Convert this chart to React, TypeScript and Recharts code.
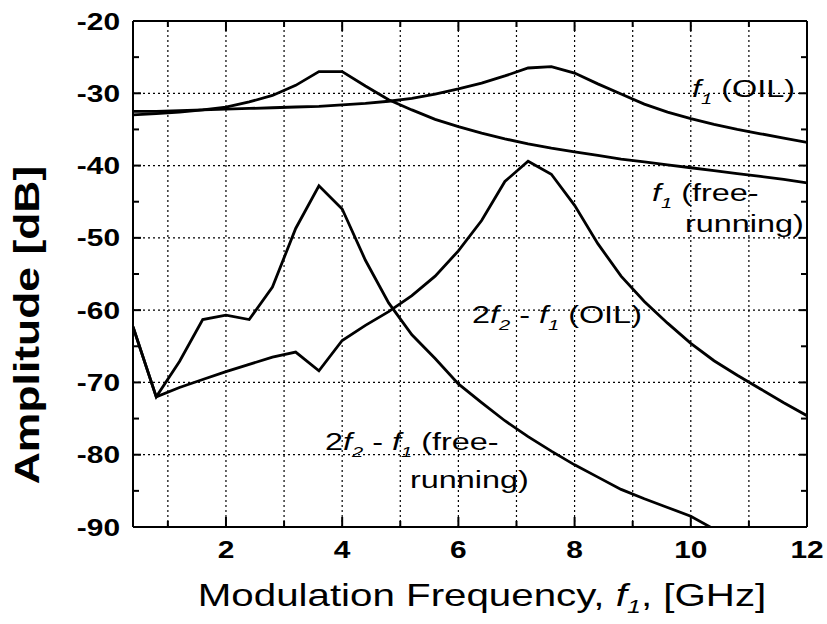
import { LineChart, Line, XAxis, YAxis, ReferenceLine } from "recharts";

// modulation frequency samples [GHz]
const freq = [
  0.4, 0.8, 1.2, 1.6, 2.0, 2.4, 2.8, 3.2, 3.6, 4.0, 4.4, 4.8, 5.2, 5.6, 6.0,
  6.4, 6.8, 7.2, 7.6, 8.0, 8.4, 8.8, 9.2, 9.6, 10.0, 10.4, 10.8, 11.2, 11.6, 12.0,
];

// amplitudes [dB]
const f1Free = [
  -33.0, -32.8, -32.6, -32.3, -31.9, -31.2, -30.3, -28.9, -27.0, -27.0, -29.0, -30.9, -32.3, -33.6, -34.6,
  -35.5, -36.3, -37.0, -37.6, -38.1, -38.6, -39.1, -39.5, -39.9, -40.3, -40.7, -41.1, -41.5, -41.9, -42.4,
];
const f1Oil = [
  -32.5, -32.5, -32.4, -32.3, -32.2, -32.1, -32.0, -31.9, -31.8, -31.6, -31.4, -31.1, -30.7, -30.1, -29.4,
  -28.6, -27.6, -26.5, -26.3, -27.2, -28.7, -30.1, -31.5, -32.6, -33.5, -34.3, -35.0, -35.6, -36.2, -36.8,
];
const imdFree = [
  -62.3, -72.0, -67.1, -61.3, -60.7, -61.3, -56.8, -48.7, -42.8, -46.0, -53.1, -59.0, -63.4, -66.7, -70.2,
  -72.8, -75.3, -77.5, -79.5, -81.4, -83.1, -84.8, -86.1, -87.3, -88.5, -90.3, -91.3, -92.3, -93.2, -94.1,
];
const imdOil = [
  -62.3, -72.0, -70.7, -69.6, -68.5, -67.5, -66.5, -65.8, -68.4, -64.2, -62.1, -60.2, -58.0, -55.3, -51.8,
  -47.6, -42.2, -39.4, -41.2, -45.5, -50.8, -55.3, -58.8, -61.8, -64.6, -67.0, -69.0, -70.9, -72.8, -74.6,
];

const xTicks = [1, 2, 3, 4, 5, 6, 7, 8, 9, 10, 11, 12];
const xGrid = [1, 2, 3, 4, 5, 6, 7, 8, 9, 10, 11];
const yTicks = [-90, -85, -80, -75, -70, -65, -60, -55, -50, -45, -40, -35, -30, -25, -20];
const yGrid = [-80, -70, -60, -50, -40, -30];

const rows = freq.map((f, i) => ({
  f,
  f1Free: f1Free[i],
  f1Oil: f1Oil[i],
  imdFree: imdFree[i],
  imdOil: imdOil[i],
}));

const FONT = '"Liberation Sans", Arial, sans-serif';
const SX = 1.3;

function Wide({ x, y, size, bold, anchor = "start", sx = SX, rotate = false, children }: any) {
  return (
    <g transform={`translate(${x},${y})${rotate ? " rotate(-90)" : ""} scale(${sx},1)`}>
      <text x={0} y={0} fontFamily={FONT} fontSize={size} fontWeight={bold ? "bold" : "normal"} textAnchor={anchor} fill="#000">
        {children}
      </text>
    </g>
  );
}

function BottomTick({ x, y, payload }: any) {
  const major = payload.value % 2 === 0;
  return (
    <g>
      <line x1={x} x2={x} y1={y} y2={y - (major ? 10 : 6)} stroke="#000" strokeWidth={2} />
      {major && (
        <Wide x={x} y={y + 31} size={23} bold anchor="middle">
          {payload.value}
        </Wide>
      )}
    </g>
  );
}

function TopTick({ x, y, payload }: any) {
  const major = payload.value % 2 === 0;
  return <line x1={x} x2={x} y1={y} y2={y + (major ? 10 : 6)} stroke="#000" strokeWidth={2} />;
}

function LeftTick({ x, y, payload }: any) {
  const major = payload.value % 10 === 0;
  return (
    <g>
      <line x1={x} x2={x + (major ? 8 : 6)} y1={y} y2={y} stroke="#000" strokeWidth={2} />
      {major && (
        <Wide x={x - 13} y={y + 8.5} size={23} bold anchor="end">
          {payload.value}
        </Wide>
      )}
    </g>
  );
}

function RightTick({ x, y, payload }: any) {
  const major = payload.value % 10 === 0;
  return <line x1={x} x2={x - (major ? 8 : 6)} y1={y} y2={y} stroke="#000" strokeWidth={2} />;
}

function Sub({ children }: any) {
  return (
    <tspan fontStyle="italic" fontSize="0.62em" dy={7}>
      {children}
    </tspan>
  );
}

function F({ s }: { s: string }) {
  return (
    <>
      <tspan fontStyle="italic">f</tspan>
      <Sub>{s}</Sub>
    </>
  );
}

export default function App() {
  const axis = { stroke: "#000", strokeWidth: 2 };
  return (
    <div style={{ position: "absolute", left: 0, top: 0, width: 827, height: 624, background: "#fff" }}>
      <LineChart width={827} height={624} data={rows} margin={{ top: 20, right: 19, left: 0, bottom: 37 }}>
        <XAxis
          dataKey="f"
          type="number"
          domain={[0.4, 12]}
          allowDataOverflow
          ticks={xTicks}
          interval={0}
          tickLine={false}
          tickSize={0}
          tickMargin={0}
          tick={<BottomTick />}
          axisLine={axis}
          height={60}
        />
        <XAxis
          xAxisId="top"
          orientation="top"
          dataKey="f"
          type="number"
          domain={[0.4, 12]}
          allowDataOverflow
          ticks={xTicks}
          interval={0}
          tickLine={false}
          tickSize={0}
          tickMargin={0}
          tick={<TopTick />}
          axisLine={axis}
          height={1}
        />
        <YAxis
          type="number"
          domain={[-90, -20]}
          allowDataOverflow
          ticks={yTicks}
          interval={0}
          tickLine={false}
          tickSize={0}
          tickMargin={0}
          tick={<LeftTick />}
          axisLine={axis}
          width={133}
        />
        <YAxis
          yAxisId="right"
          orientation="right"
          type="number"
          domain={[-90, -20]}
          allowDataOverflow
          ticks={yTicks}
          interval={0}
          tickLine={false}
          tickSize={0}
          tickMargin={0}
          tick={<RightTick />}
          axisLine={axis}
          width={1}
        />
        {xGrid.map((v) => (
          <ReferenceLine key={"vx" + v} x={v} stroke="#000" strokeWidth={1.2} strokeDasharray="2 3" />
        ))}
        {yGrid.map((v) => (
          <ReferenceLine key={"hy" + v} y={v} stroke="#000" strokeWidth={1.2} strokeDasharray="2 3" />
        ))}
        <Line dataKey="f1Free" stroke="#000" strokeWidth={2.8} dot={false} isAnimationActive={false} />
        <Line dataKey="f1Oil" stroke="#000" strokeWidth={2.8} dot={false} isAnimationActive={false} />
        <Line dataKey="imdFree" stroke="#000" strokeWidth={2.8} dot={false} isAnimationActive={false} />
        <Line dataKey="imdOil" stroke="#000" strokeWidth={2.8} dot={false} isAnimationActive={false} />
      </LineChart>
      <svg width={827} height={624} style={{ position: "absolute", left: 0, top: 0, pointerEvents: "none" }}>
        <Wide x={39} y={325} size={35} bold anchor="middle" rotate sx={1.27}>
          Amplitude [dB]
        </Wide>
        <Wide x={482} y={606} size={31} anchor="middle">
          Modulation Frequency, <F s="1" />
          <tspan dy={-7}>, [GHz]</tspan>
        </Wide>
        <Wide x={692} y={97} size={24} sx={1.35}>
          <F s="1" />
          <tspan dy={-7}> (OIL)</tspan>
        </Wide>
        <Wide x={652} y={201} size={24} sx={1.35}>
          <F s="1" />
          <tspan dy={-7}> (free-</tspan>
        </Wide>
        <Wide x={685} y={232} size={24} sx={1.35}>
          running)
        </Wide>
        <Wide x={472} y={323} size={24} sx={1.35}>
          2<F s="2" />
          <tspan dy={-7}> - </tspan>
          <F s="1" />
          <tspan dy={-7}> (OIL)</tspan>
        </Wide>
        <Wide x={325} y={450} size={24} sx={1.35}>
          2<F s="2" />
          <tspan dy={-7}> - </tspan>
          <F s="1" />
          <tspan dy={-7}> (free-</tspan>
        </Wide>
        <Wide x={410} y={488} size={24} sx={1.35}>
          running)
        </Wide>
      </svg>
    </div>
  );
}
